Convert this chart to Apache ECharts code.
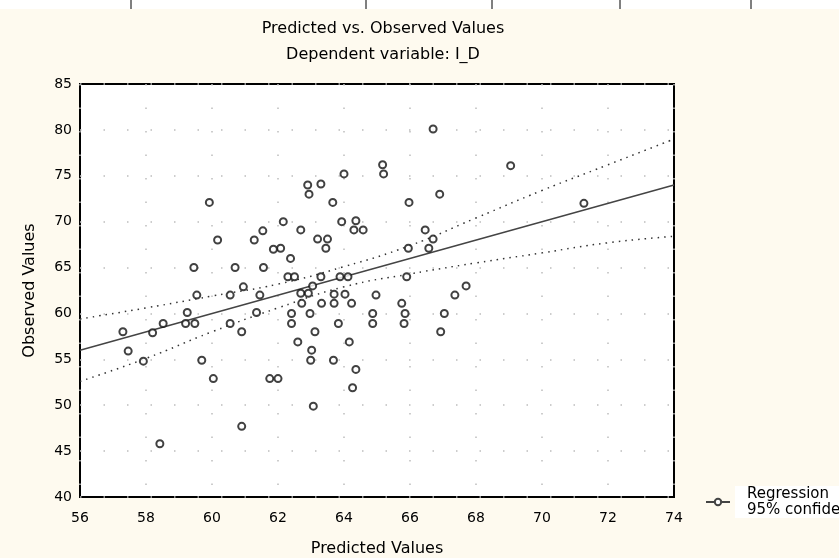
<!DOCTYPE html>
<html><head><meta charset="utf-8">
<script src="https://cdn.jsdelivr.net/npm/echarts@6/dist/echarts.min.js"></script>
<style>html,body{margin:0;padding:0;background:#fefaef;}#c{width:839px;height:558px;}</style>
</head><body><div id="c"></div><script>
// Scatter data (predicted, observed)
const predicted = [66.7,65.17,65.2,69.05,64.0,63.3,62.9,62.94,63.66,65.97,66.9,71.27,59.92,62.16,62.69,63.93,64.36,64.3,64.58,63.2,
  63.5,63.45,62.08,61.86,62.38,66.46,66.7,66.57,65.95,60.17,61.28,61.54,59.45,60.7,61.56,62.3,62.5,63.3,63.88,64.12,
  65.9,63.05,67.7,60.95,59.54,60.55,61.45,62.69,62.92,62.72,63.32,63.7,64.03,63.7,64.23,64.97,65.75,67.36,59.25,61.35,
  62.41,62.97,64.87,65.85,67.04,58.52,59.2,59.48,60.55,62.41,63.83,64.87,65.82,57.3,58.2,60.9,63.12,66.93,62.6,64.16,
  57.46,63.02,57.92,59.69,62.99,63.68,64.36,60.04,61.75,62.0,64.26,63.07,60.9,58.42];
const observed = [80.1,76.2,75.2,76.1,75.2,74.1,74.0,73.0,72.1,72.1,73.0,72.0,72.1,70.0,69.1,70.0,70.1,69.1,69.1,68.1,
  68.1,67.1,67.1,67.0,66.0,69.1,68.1,67.1,67.1,68.0,68.0,69.0,65.0,65.0,65.0,64.0,64.0,64.0,64.0,64.0,
  64.0,63.0,63.0,62.9,62.0,62.0,62.0,62.2,62.2,61.1,61.1,62.1,62.1,61.1,61.1,62.0,61.1,62.0,60.1,60.1,
  60.0,60.0,60.0,60.0,60.0,58.9,58.9,58.9,58.9,58.9,58.9,58.9,58.9,58.0,57.9,58.0,58.0,58.0,56.9,56.9,
  55.9,56.0,54.8,54.9,54.9,54.9,53.9,52.9,52.9,52.9,51.9,49.9,47.7,45.8];
// Regression line and 95% confidence band
const fitX = [56, 74];
const fitY = [56, 74];
const bandX = [56,58,60,62,64,66,68,70,72,74];
const bandUpper = [59.4,60.6,61.9,63.2,65.1,67.4,70.4,73.4,76.2,79.0];
const bandLower = [52.6,55.1,58.0,60.6,62.9,64.3,65.5,66.6,67.7,68.4];
const legendName = 'Regression\n95% confidence';
const titleText = 'Predicted vs. Observed Values';
const subTitleText = 'Dependent variable: I_D';
const xName = 'Predicted Values';
const yName = 'Observed Values';

const FONT = 'DejaVu Sans';
const chart = echarts.init(document.getElementById('c'));
const gridLine = {show:true, lineStyle:{color:'#bdbdbd', width:1.5, type:[1.5,22]}};
chart.setOption({
  backgroundColor:'#fefaef',
  animation:false,
  textStyle:{fontFamily:FONT},
  title:[
    {text:titleText, left:378, top:16, textAlign:'center', textStyle:{fontSize:16, fontWeight:'normal', color:'#000', fontFamily:FONT}},
    {text:subTitleText, left:378, top:42, textAlign:'center', textStyle:{fontSize:16, fontWeight:'normal', color:'#000', fontFamily:FONT}}
  ],
  graphic:[
    {type:'rect', left:0, top:0, shape:{width:839, height:9}, style:{fill:'#ffffff'}, silent:true},
    ...[131,366,492,620,751].map(x=>({type:'line', shape:{x1:x,y1:0,x2:x,y2:9}, style:{stroke:'#000', lineWidth:1}, silent:true}))
  ],
  grid:{left:80, right:165, top:84, bottom:61, show:true, backgroundColor:'#fff', borderColor:'#000', borderWidth:2,
    containLabel:false, outerBoundsMode:'none'},
  legend:{
    data:[legendName], left:700, top:481, orient:'vertical', itemWidth:24, itemHeight:8,
    textStyle:{fontSize:15, color:'#000', fontFamily:FONT, lineHeight:16, backgroundColor:'#fff', padding:[0,0,0,12]}
  },
  xAxis:{type:'value', min:56, max:74, interval:2, name:xName, nameLocation:'middle', nameGap:44,
    nameTextStyle:{fontSize:16, color:'#000'},
    axisLine:{show:false}, axisTick:{show:false}, axisLabel:{color:'#000', fontSize:14, margin:14},
    splitLine:gridLine},
  yAxis:{type:'value', min:40, max:85, interval:5, name:yName, nameLocation:'middle', nameGap:42,
    nameTextStyle:{fontSize:16, color:'#000'},
    axisLine:{show:false}, axisTick:{show:false}, axisLabel:{color:'#000', fontSize:14, margin:8},
    splitLine:gridLine},
  series:[
    {type:'line', name:'upper', data:bandX.map((x,i)=>[x,bandUpper[i]]), smooth:true, showSymbol:false, symbol:'none',
      lineStyle:{color:'#333', width:1.5, type:[1.5,5]}, z:2},
    {type:'line', name:'lower', data:bandX.map((x,i)=>[x,bandLower[i]]), smooth:true, showSymbol:false, symbol:'none',
      lineStyle:{color:'#333', width:1.5, type:[1.5,5]}, z:2},
    {type:'line', name:legendName, data:fitX.map((x,i)=>[x,fitY[i]]), showSymbol:false, symbol:'emptyCircle', symbolSize:6,
      itemStyle:{color:'#444'}, lineStyle:{color:'#444', width:1.5}, z:3},
    {type:'scatter', name:'obs', data:predicted.map((x,i)=>[x,observed[i]]), symbol:'emptyCircle', symbolSize:7,
      itemStyle:{color:'#111', borderWidth:1.7}, z:4}
  ]
});
</script></body></html>
